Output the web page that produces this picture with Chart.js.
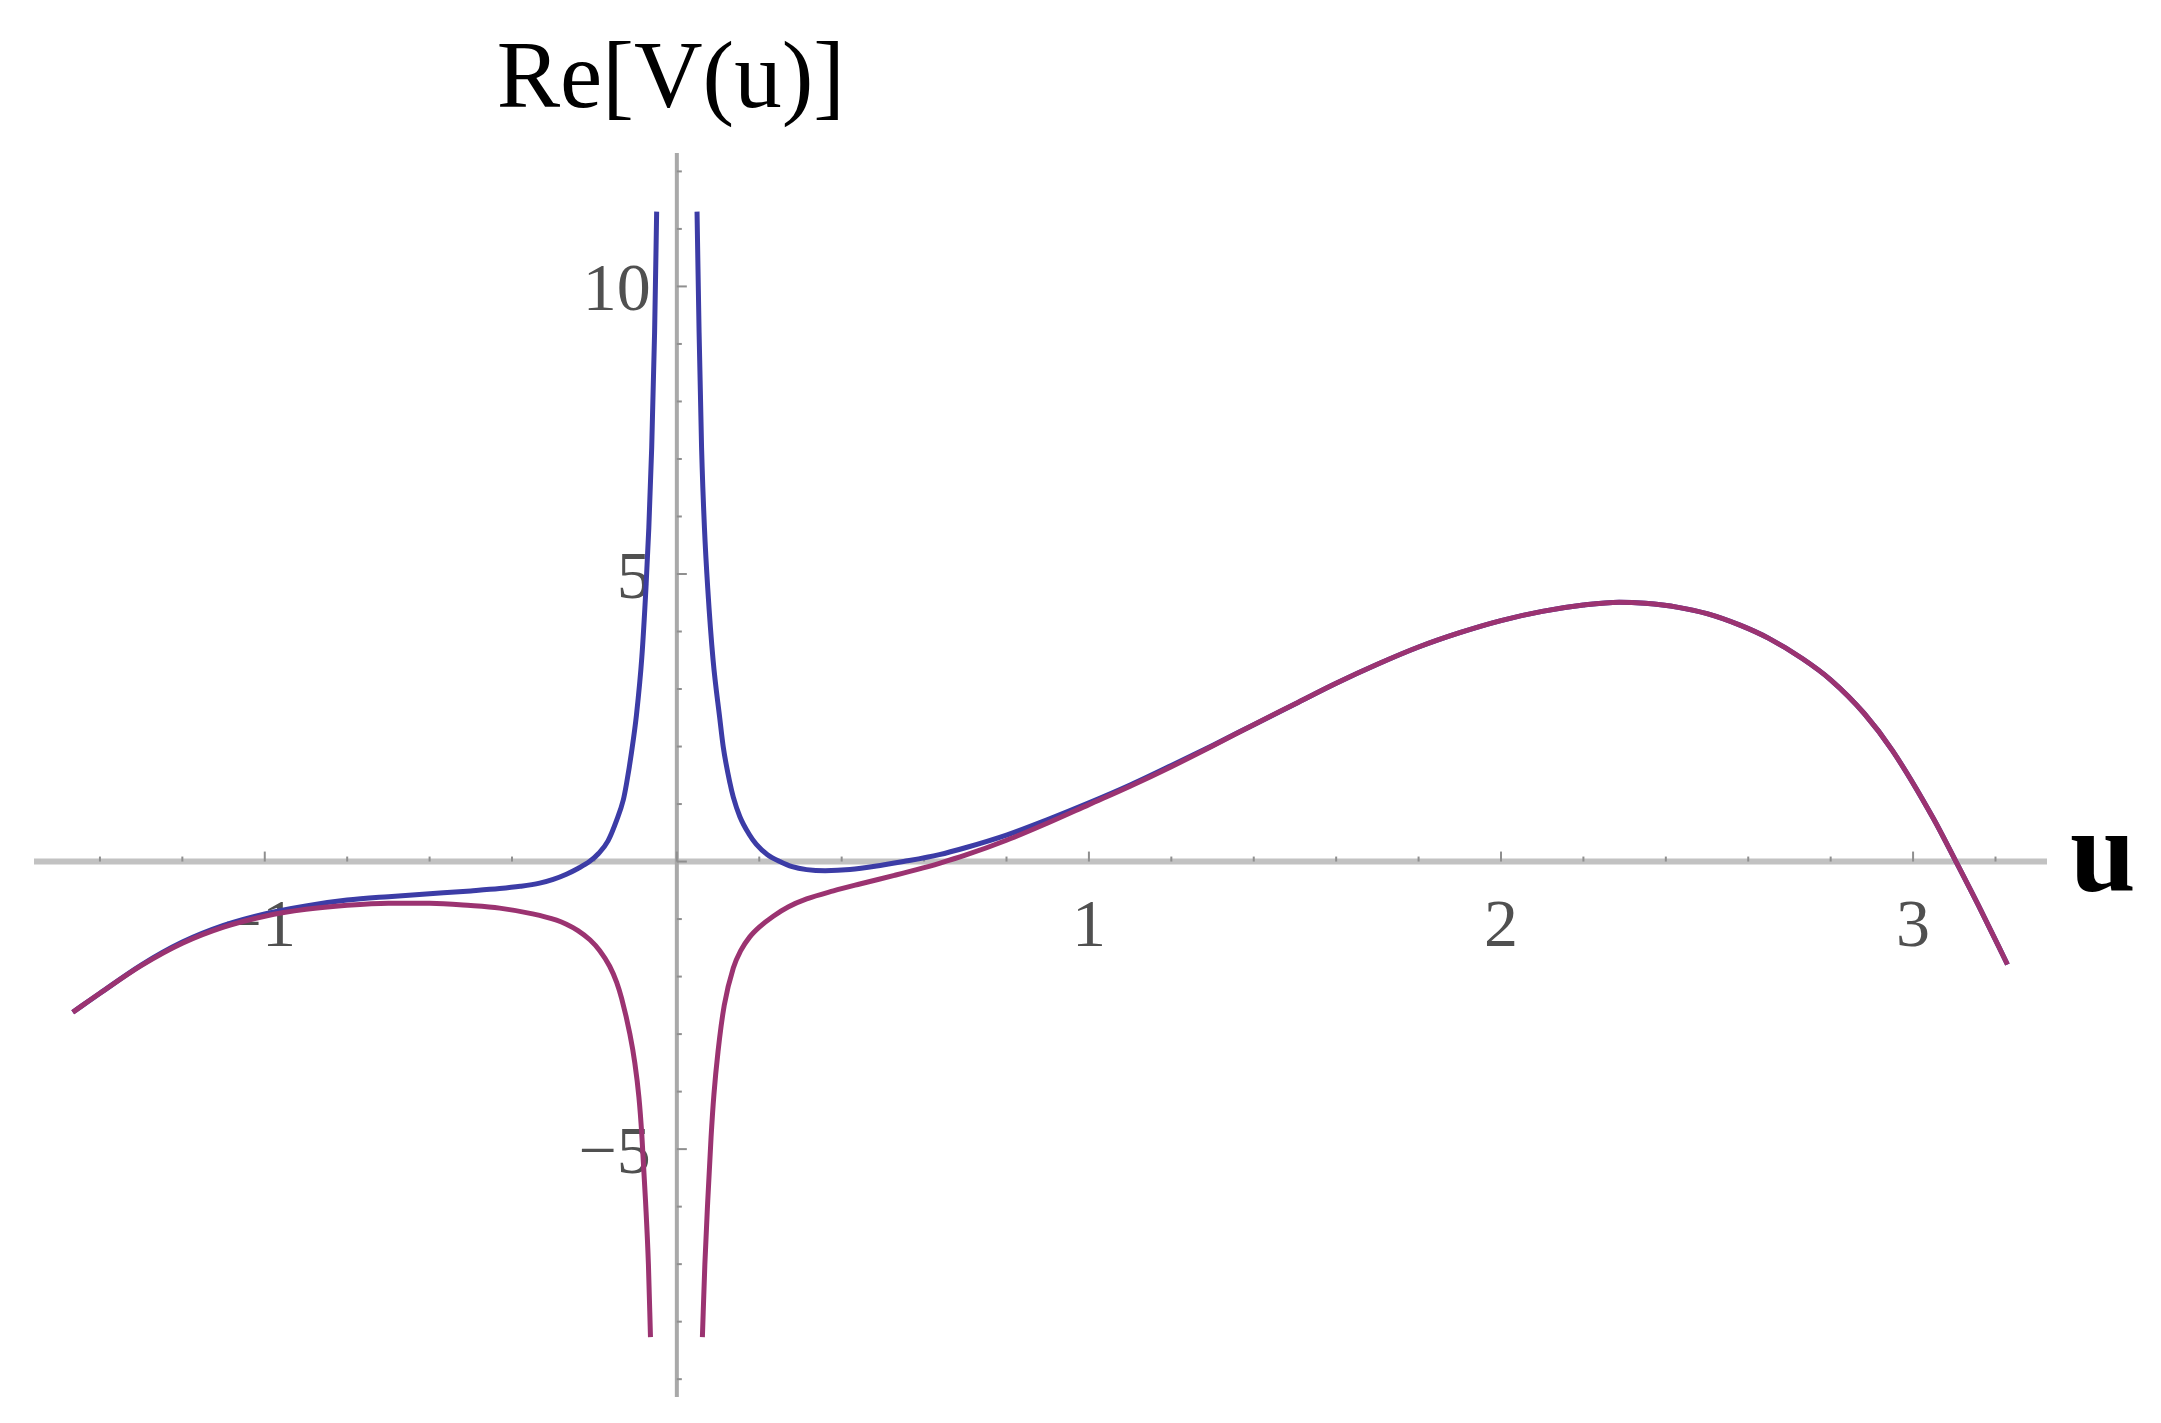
<!DOCTYPE html>
<html>
<head>
<meta charset="utf-8">
<title>Re[V(u)]</title>
<script src="https://cdn.jsdelivr.net/npm/chart.js@4.4.1/dist/chart.umd.min.js"></script>
<style>
  html, body { margin: 0; padding: 0; background: #ffffff; }
  #wrap { width: 2161px; height: 1423px; }
</style>
</head>
<body>
<div id="wrap"><canvas id="plot" width="2161" height="1423"></canvas></div>
<script>
// Blue branch (null = break at the pole near u = 0)
const blueU = [-1.466, -1.4, -1.3, -1.2, -1.1, -1.0, -0.9, -0.8, -0.7, -0.6,
  -0.5, -0.43, -0.38, -0.333, -0.3, -0.268, -0.24, -0.212, -0.19, -0.167,
  -0.146, -0.13, -0.122, -0.11, -0.098, -0.085, -0.075, -0.068, -0.061, -0.054, -0.049,
  0,
  0.049, 0.054, 0.06, 0.067, 0.075, 0.088, 0.104, 0.1125, 0.129, 0.137,
  0.153, 0.175, 0.193, 0.22, 0.25, 0.28, 0.315, 0.36, 0.42, 0.5,
  0.55, 0.637, 0.7, 0.8, 0.9, 1.0,
  1.1, 1.2, 1.3, 1.4, 1.5, 1.6, 1.7, 1.8, 1.9, 2.0, 2.1, 2.2,
  2.287, 2.35, 2.43, 2.5, 2.58, 2.65, 2.731, 2.8, 2.882, 2.95, 3.05, 3.104, 3.164, 3.229];
const blueV = [-2.62, -2.29, -1.80, -1.40, -1.11, -0.91, -0.77, -0.67, -0.61, -0.56,
  -0.51, -0.47, -0.43, -0.375, -0.31, -0.22, -0.12, 0.0, 0.14, 0.36,
  0.72, 1.07, 1.36, 1.90, 2.55, 3.55, 4.75, 5.8, 7.2, 9.2, 11.3,
  null,
  11.3, 9.2, 7.2, 5.8, 4.75, 3.5, 2.5, 2.0, 1.36, 1.12,
  0.78, 0.48, 0.30, 0.12, 0.0, -0.09, -0.14, -0.16, -0.14, -0.06,
  0.0, 0.12, 0.24, 0.46, 0.73, 1.02,
  1.33, 1.67, 2.02, 2.38, 2.74, 3.10, 3.43, 3.73, 3.98, 4.19, 4.35, 4.46,
  4.51, 4.49, 4.42, 4.31, 4.11, 3.88, 3.53, 3.16, 2.57, 1.93, 0.74, 0.0, -0.84, -1.79];

// Purple branch
const redU = [-1.466, -1.4, -1.3, -1.2, -1.1, -1.0, -0.9, -0.8, -0.7, -0.6,
  -0.5, -0.43, -0.35, -0.292, -0.268, -0.24, -0.211, -0.187, -0.163, -0.146,
  -0.134, -0.114, -0.102, -0.092, -0.085, -0.076, -0.069, -0.064,
  0,
  0.062, 0.068, 0.075, 0.083, 0.09, 0.1, 0.115, 0.137, 0.155, 0.177,
  0.2, 0.234, 0.27, 0.315, 0.38, 0.444, 0.528, 0.582, 0.637, 0.7,
  0.8, 0.9, 1.0,
  1.1, 1.2, 1.3, 1.4, 1.5, 1.6, 1.7, 1.8, 1.9, 2.0, 2.1, 2.2,
  2.287, 2.35, 2.43, 2.5, 2.58, 2.65, 2.731, 2.8, 2.882, 2.95, 3.05, 3.104, 3.164, 3.229];
const redV = [-2.62, -2.29, -1.81, -1.42, -1.14, -0.95, -0.83, -0.76, -0.725, -0.725,
  -0.765, -0.81, -0.91, -1.02, -1.09, -1.20, -1.36, -1.55, -1.82, -2.10,
  -2.38, -3.0, -3.5, -4.1, -4.75, -5.9, -7.0, -8.27,
  null,
  -8.27, -7.0, -5.9, -4.8, -4.05, -3.3, -2.5, -1.85, -1.55, -1.31,
  -1.14, -0.95, -0.79, -0.65, -0.51, -0.39, -0.24, -0.14, -0.03, 0.11,
  0.37, 0.67, 0.99,
  1.31, 1.65, 2.01, 2.38, 2.74, 3.10, 3.43, 3.73, 3.98, 4.19, 4.35, 4.46,
  4.51, 4.49, 4.42, 4.31, 4.11, 3.88, 3.53, 3.16, 2.57, 1.93, 0.74, 0.0, -0.84, -1.79];

// Axis ranges and tick labels
const uRange = [-1.56, 3.325];
const vRange = [-9.31, 12.32];
const uLabels = [-1, 1, 2, 3];
const vLabels = [-5, 5, 10];

// minor ticks: every 0.2 on u, every 1 on v
const uTicks = [];
for (let i = -7; i <= 16; i++) uTicks.push(Math.round(i * 2) / 10);
const vTicks = [];
for (let i = -9; i <= 12; i++) vTicks.push(i);

const fmt = (n) => (n < 0 ? "\u2212" + Math.abs(n) : String(n));

function line(ctx, x1, y1, x2, y2) {
  ctx.beginPath();
  ctx.moveTo(x1, y1);
  ctx.lineTo(x2, y2);
  ctx.stroke();
}

// Mathematica-style axes crossing at the origin
const axesPlugin = {
  id: "originAxes",
  beforeDatasetsDraw(chart) {
    const ctx = chart.ctx;
    const { x, y } = chart.scales;
    const x0 = x.getPixelForValue(0);
    const y0 = y.getPixelForValue(0);
    ctx.save();

    // axis lines
    ctx.lineCap = "butt";
    ctx.strokeStyle = "#c2c2c2";
    ctx.lineWidth = 6;
    line(ctx, x.left, y0, x.right, y0);
    ctx.strokeStyle = "#a9a9a9";
    ctx.lineWidth = 4;
    line(ctx, x0, y.top, x0, y.bottom);

    // tick marks, pointing inward
    ctx.strokeStyle = "#8f8f8f";
    ctx.lineWidth = 2;
    uTicks.forEach((u) => {
      const px = x.getPixelForValue(u);
      const len = Number.isInteger(u) ? 10 : 5;
      line(ctx, px, y0, px, y0 - len);
    });
    vTicks.forEach((v) => {
      const py = y.getPixelForValue(v);
      const len = v % 5 === 0 ? 10 : 5;
      line(ctx, x0, py, x0 + len, py);
    });

    // tick labels
    ctx.fillStyle = "#505050";
    ctx.font = "68px 'Liberation Serif', 'Times New Roman', serif";
    ctx.textBaseline = "alphabetic";
    ctx.textAlign = "center";
    uLabels.forEach((u) => {
      ctx.fillText(fmt(u), x.getPixelForValue(u) - (u < 0 ? 5 : 0), y0 + 84);
    });
    ctx.textAlign = "right";
    vLabels.forEach((v) => {
      ctx.fillText(fmt(v), x0 - 26, y.getPixelForValue(v) + 24);
    });

    // axis titles
    ctx.fillStyle = "#000000";
    ctx.textAlign = "center";
    ctx.font = "95px 'Liberation Serif', 'Times New Roman', serif";
    ctx.fillText("Re[V(u)]", x0 - 6, y.top - 46);
    ctx.textAlign = "left";
    ctx.font = "bold 118px 'Liberation Serif', 'Times New Roman', serif";
    ctx.fillText("u", x.right + 23, y0 + 29);

    ctx.restore();
  },
};

const toPoints = (us, vs) => us.map((u, i) => ({ x: u, y: vs[i] }));

const chart = new Chart(document.getElementById("plot").getContext("2d"), {
  type: "line",
  data: {
    datasets: [
      // purple first so it is painted over the blue one
      {
        label: "branch 2",
        data: toPoints(redU, redV),
        borderColor: "#9b3371",
        borderWidth: 5,
        cubicInterpolationMode: "monotone",
        spanGaps: false,
        fill: false,
      },
      {
        label: "branch 1",
        data: toPoints(blueU, blueV),
        borderColor: "#3c3ca6",
        borderWidth: 5,
        cubicInterpolationMode: "monotone",
        spanGaps: false,
        fill: false,
      },
    ],
  },
  options: {
    responsive: false,
    devicePixelRatio: 1,
    animation: false,
    layout: { padding: { left: 34, right: 114, top: 153, bottom: 26 } },
    elements: { point: { radius: 0 } },
    plugins: {
      legend: { display: false },
      tooltip: { enabled: false },
    },
    scales: {
      x: { type: "linear", min: uRange[0], max: uRange[1], display: false },
      y: { type: "linear", min: vRange[0], max: vRange[1], display: false },
    },
  },
  plugins: [axesPlugin],
});
</script>
</body>
</html>
